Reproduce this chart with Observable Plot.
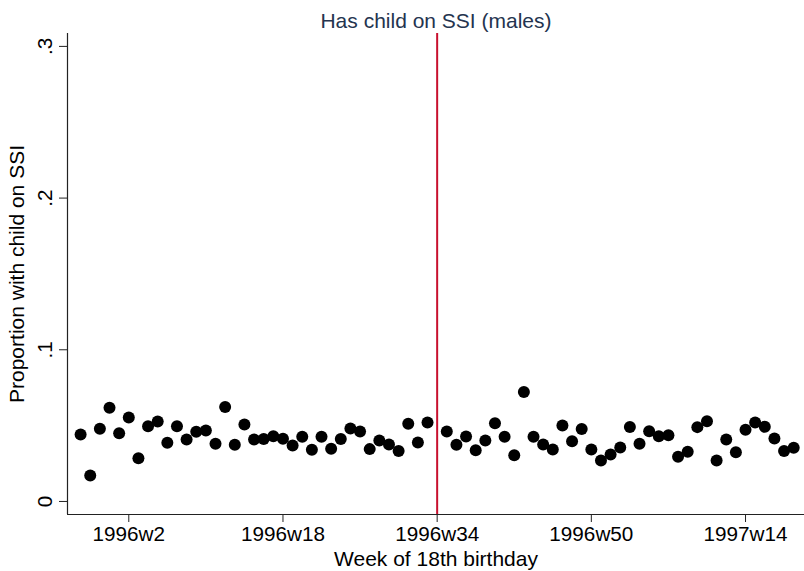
<!DOCTYPE html>
<html><head><meta charset="utf-8">
<script src="https://cdn.jsdelivr.net/npm/d3@7"></script>
<script src="https://cdn.jsdelivr.net/npm/@observablehq/plot@0.6"></script>
<style>body{margin:0;background:#fff}</style>
</head><body><div id="chart"></div>
<script>
// week index: 0 = 1996w1 (1995w49 = -4 ... 1997w19 = 70), 1996w34 has no point
const weeks = [-4,-3,-2,-1,0,1,2,3,4,5,6,7,8,9,10,11,12,13,14,15,16,17,18,19,20,21,22,23,24,25,26,27,28,29,30,31,32,
  34,35,36,37,38,39,40,41,42,43,44,45,46,47,48,49,50,51,52,53,54,55,56,57,58,59,60,61,62,63,64,65,66,67,68,69,70];
const shares = [0.0442,0.0171,0.0479,0.0618,0.0450,0.0554,0.0285,0.0496,0.0527,0.0387,0.0496,0.0409,0.0459,0.0468,0.0380,0.0622,0.0374,0.0508,0.0409,0.0411,0.0430,0.0413,0.0369,0.0427,0.0341,0.0427,0.0347,0.0411,0.0481,0.0461,0.0345,0.0402,0.0376,0.0332,0.0512,0.0389,0.0521,
  0.0461,0.0374,0.0428,0.0338,0.0402,0.0516,0.0427,0.0305,0.0721,0.0427,0.0376,0.0343,0.0501,0.0397,0.0477,0.0343,0.0270,0.0310,0.0356,0.0491,0.0380,0.0463,0.0430,0.0437,0.0295,0.0328,0.0490,0.0529,0.0270,0.0409,0.0325,0.0473,0.0521,0.0492,0.0415,0.0332,0.0354];
const tickWeeks = [1, 17, 33, 49, 65];
const tickLabels = ["1996w2", "1996w18", "1996w34", "1996w50", "1997w14"];
const yTicks = [0, 0.1, 0.2, 0.3];
const yTickLabels = ["0", ".1", ".2", ".3"];
const cutoffWeek = [33];
const titleText = "Has child on SSI (males)";
const xTitle = "Week of 18th birthday";
const yTitle = "Proportion with child on SSI";

const data = weeks.map((w, i) => ({week: w, share: shares[i]}));
const font = "'Liberation Sans', Helvetica, Arial, sans-serif";
const xDomain = [-5.36, 71.12];
const yDomain = [-0.0086, 0.3085];

const chart = Plot.plot({
  width: 804, height: 571,
  marginLeft: 67, marginRight: 0, marginTop: 33, marginBottom: 57,
  style: {fontFamily: font, fontSize: "20.7px", color: "#000", background: "#fff"},
  x: {domain: xDomain},
  y: {domain: yDomain},
  marks: [
    Plot.ruleX([xDomain[0]], {stroke: "#222", strokeWidth: 1.2}),
    Plot.ruleY([yDomain[0]], {stroke: "#222", strokeWidth: 1.2}),
    Plot.axisX({ticks: tickWeeks, tickFormat: d => tickLabels[tickWeeks.indexOf(d)], tickSize: 8, tickPadding: 4, fontSize: 20.7, label: null, stroke: "#222"}),
    Plot.axisY({ticks: yTicks, tickFormat: d => yTickLabels[yTicks.indexOf(d)], tickSize: 8, tickPadding: 8, tickRotate: -90, fontSize: 20.7, label: null, stroke: "#222"}),
    Plot.ruleX(cutoffWeek, {stroke: "#c8102e", strokeWidth: 2}),
    Plot.dot(data, {x: "week", y: "share", r: 6, fill: "#000", stroke: "none"}),
    Plot.text([titleText], {frameAnchor: "top", dy: -6, lineAnchor: "bottom", fill: "#24344f", fontSize: 21}),
    Plot.text([xTitle], {frameAnchor: "bottom", dy: 51, lineAnchor: "bottom", fill: "#000", fontSize: 21}),
    Plot.text([yTitle], {frameAnchor: "left", dx: -50, rotate: -90, textAnchor: "middle", lineAnchor: "middle", fill: "#000", fontSize: 21})
  ]
});
document.getElementById("chart").appendChild(chart);
</script>
</body></html>
